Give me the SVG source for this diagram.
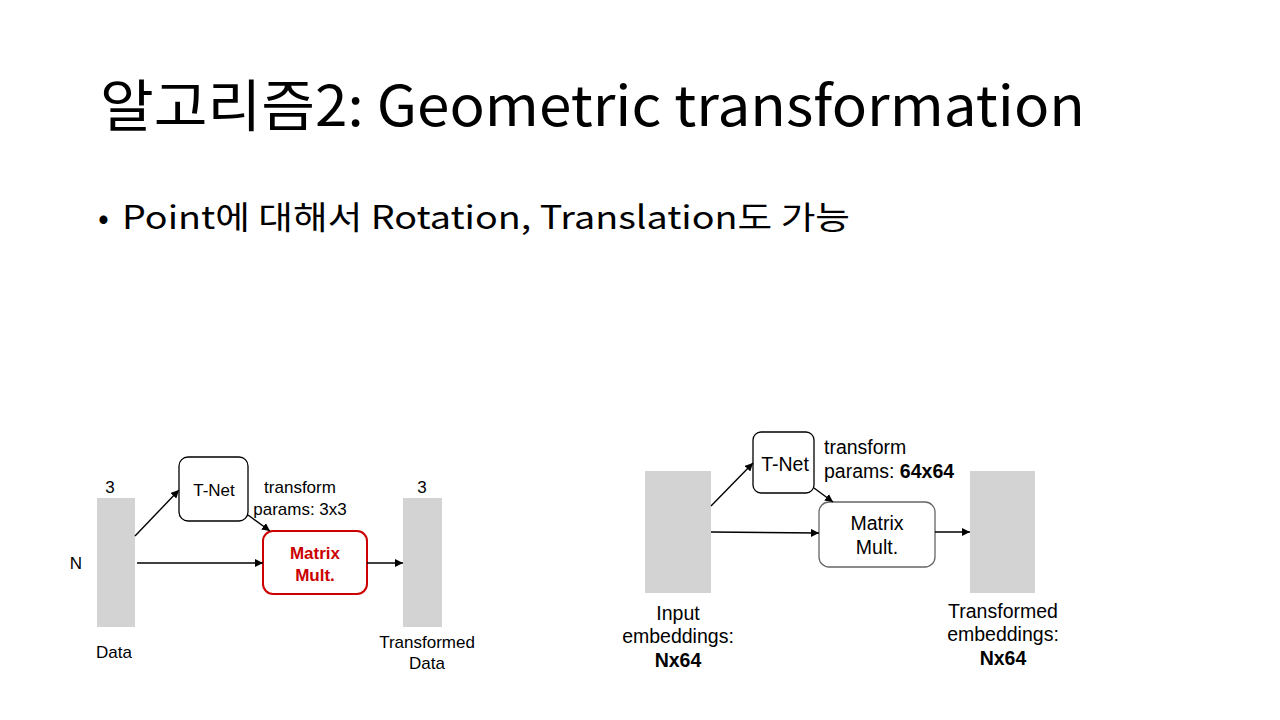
<svg xmlns="http://www.w3.org/2000/svg" width="1280" height="720" viewBox="0 0 1280 720">
  <defs>
    <marker id="arrow" viewBox="0 0 10 10" refX="10" refY="5" markerWidth="8" markerHeight="8" markerUnits="userSpaceOnUse" orient="auto">
      <path d="M0,0 L10,5 L0,10 Z" fill="#000"/>
    </marker>
    <style>
      .title { font-family: "Noto Sans CJK KR", "Noto Sans", sans-serif; font-size: 56px; fill: #000; }
      .bullet { font-family: "Noto Sans CJK KR", "Noto Sans", sans-serif; font-size: 32px; fill: #000; }
      .bar { fill: #d3d3d3; }
      .box { fill: #fff; stroke: #000; stroke-width: 1.3; }
      .box-red { fill: #fff; stroke: #cc0000; stroke-width: 2; }
      .box-gray { fill: #fff; stroke: #666; stroke-width: 1.3; }
      .lbl { font-family: "Liberation Sans", Arial, sans-serif; font-size: 17px; fill: #000; }
      .lbl2 { font-family: "Liberation Sans", Arial, sans-serif; font-size: 19.5px; fill: #000; }
      .mid { text-anchor: middle; }
      .b { font-weight: bold; }
      .red { fill: #cc0000; }
      .edge { stroke: #000; stroke-width: 1.4; fill: none; marker-end: url(#arrow); }
    </style>
  </defs>

  <rect width="1280" height="720" fill="#fff"/>

  <text class="title" x="100" y="126" textLength="985" lengthAdjust="spacingAndGlyphs">알고리즘2: Geometric transformation</text>
  <text class="bullet" x="98" y="229">•</text>
  <text class="bullet" x="122" y="229" textLength="728" lengthAdjust="spacingAndGlyphs">Point에 대해서 Rotation, Translation도 가능</text>

  <!-- input transform (3x3) -->
  <g id="data">
    <rect class="bar" x="97" y="498" width="38" height="129"/>
    <text class="lbl mid" x="110" y="493">3</text>
    <text class="lbl mid" x="76" y="569">N</text>
    <text class="lbl mid" x="114" y="658">Data</text>
  </g>
  <g id="tnet1">
    <rect class="box" x="179" y="457" width="69" height="64" rx="9"/>
    <text class="lbl mid" x="214" y="496">T-Net</text>
  </g>
  <g id="params1">
    <text class="lbl mid" x="300" y="493">transform</text>
    <text class="lbl mid" x="300" y="515">params: 3x3</text>
  </g>
  <g id="matmul1">
    <rect class="box-red" x="263" y="531" width="104" height="63" rx="10"/>
    <text class="lbl mid b red" x="315" y="559">Matrix</text>
    <text class="lbl mid b red" x="315" y="581">Mult.</text>
  </g>
  <g id="transformed-data">
    <rect class="bar" x="403" y="498" width="39" height="129"/>
    <text class="lbl mid" x="422" y="493">3</text>
    <text class="lbl mid" x="427" y="648">Transformed</text>
    <text class="lbl mid" x="427" y="669">Data</text>
  </g>

  <!-- feature transform (64x64) -->
  <g id="input-emb">
    <rect class="bar" x="645" y="471" width="66" height="122"/>
    <text class="lbl2 mid" x="678" y="620">Input</text>
    <text class="lbl2 mid" x="678" y="643">embeddings:</text>
    <text class="lbl2 mid b" x="678" y="667">Nx64</text>
  </g>
  <g id="tnet2">
    <rect class="box" x="753" y="432" width="61" height="61" rx="8"/>
    <text class="lbl2 mid" x="785" y="471">T-Net</text>
  </g>
  <g id="params2">
    <text class="lbl2" x="824" y="454">transform</text>
    <text class="lbl2" x="824" y="478">params: <tspan class="b">64x64</tspan></text>
  </g>
  <g id="matmul2">
    <rect class="box-gray" x="819" y="502" width="116" height="65" rx="10"/>
    <text class="lbl2 mid" x="877" y="530">Matrix</text>
    <text class="lbl2 mid" x="877" y="554">Mult.</text>
  </g>
  <g id="transformed-emb">
    <rect class="bar" x="970" y="471" width="65" height="122"/>
    <text class="lbl2 mid" x="1003" y="618">Transformed</text>
    <text class="lbl2 mid" x="1003" y="641">embeddings:</text>
    <text class="lbl2 mid b" x="1003" y="665">Nx64</text>
  </g>

  <g id="connectors">
    <line class="edge" x1="135" y1="536" x2="179" y2="490"/>
    <line class="edge" x1="248" y1="515" x2="270" y2="531"/>
    <line class="edge" x1="137" y1="563" x2="263" y2="563"/>
    <line class="edge" x1="367" y1="563" x2="403" y2="563"/>

    <line class="edge" x1="711" y1="506" x2="753" y2="463"/>
    <line class="edge" x1="814" y1="488" x2="833" y2="502"/>
    <line class="edge" x1="711" y1="532" x2="819" y2="533"/>
    <line class="edge" x1="935" y1="532" x2="970" y2="532"/>
  </g>
</svg>
